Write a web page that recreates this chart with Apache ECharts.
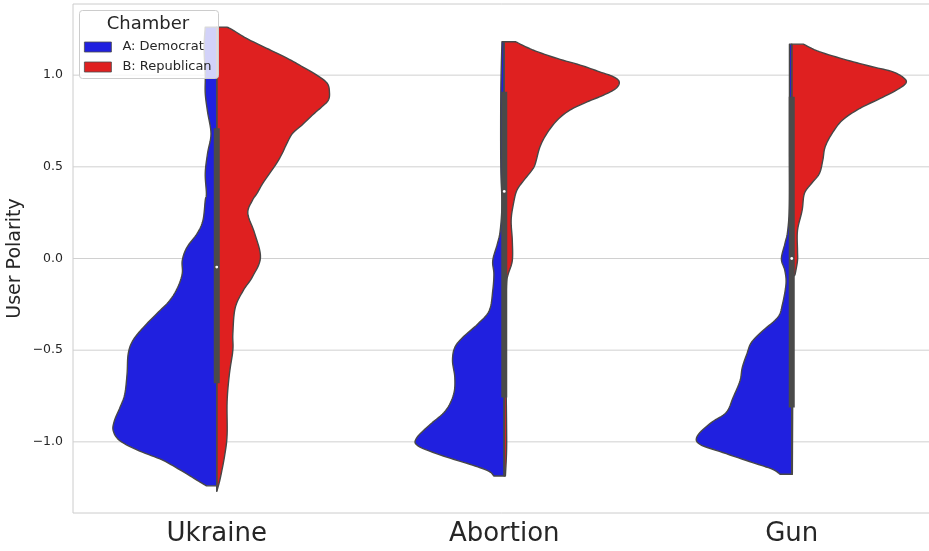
<!DOCTYPE html>
<html>
<head>
<meta charset="utf-8">
<script src="https://cdn.jsdelivr.net/npm/echarts@6/dist/echarts.min.js"></script>
<style>
  html, body { margin: 0; padding: 0; background: #ffffff; }
  #chart { width: 929px; height: 551px; }
</style>
</head>
<body>
<div id="chart"></div>
<script>
// Topics on the x axis, chambers split left/right inside each violin
const categories = ['Ukraine', 'Abortion', 'Gun'];
const groups = ['A: Democrat', 'B: Republican'];
const yTickValues = [-1.0, -0.5, 0.0, 0.5, 1.0];

// Kernel density profiles: [polarity, relative density] (1 = widest half)
const ukraineDem = [
  [1.262, 0.10], [1.15, 0.11], [1.0, 0.10], [0.9, 0.10], [0.8, 0.08], [0.68, 0.05],
  [0.574, 0.08], [0.464, 0.10], [0.355, 0.09], [0.317, 0.10], [0.208, 0.12], [0.137, 0.17],
  [0.06, 0.26], [-0.011, 0.30], [-0.082, 0.30], [-0.158, 0.34], [-0.23, 0.41], [-0.30, 0.52],
  [-0.377, 0.64], [-0.448, 0.73], [-0.52, 0.77], [-0.63, 0.78], [-0.74, 0.80], [-0.81, 0.84],
  [-0.885, 0.89], [-0.94, 0.90], [-0.995, 0.84], [-1.05, 0.67], [-1.10, 0.47], [-1.16, 0.30],
  [-1.21, 0.17], [-1.24, 0.09]
];
const ukraineRep = [
  [1.262, 0.09], [1.246, 0.14], [1.20, 0.26], [1.148, 0.43], [1.093, 0.61], [1.044, 0.75],
  [1.0, 0.87], [0.956, 0.96], [0.907, 0.98], [0.863, 0.97], [0.825, 0.91], [0.781, 0.83],
  [0.727, 0.74], [0.683, 0.66], [0.628, 0.61], [0.574, 0.57], [0.519, 0.52], [0.464, 0.46],
  [0.41, 0.40], [0.355, 0.35], [0.317, 0.31], [0.246, 0.27], [0.137, 0.33], [0.005, 0.38],
  [-0.10, 0.31], [-0.175, 0.23], [-0.27, 0.16], [-0.41, 0.14], [-0.5, 0.14], [-0.63, 0.11],
  [-0.78, 0.09], [-0.96, 0.09], [-1.07, 0.07], [-1.20, 0.03], [-1.27, 0.0]
];
const abortionDem = [
  [1.182, 0.02], [0.9, 0.03], [0.5, 0.03], [0.3, 0.02], [0.153, 0.035], [0.08, 0.06],
  [-0.011, 0.10], [-0.084, 0.09], [-0.175, 0.10], [-0.284, 0.13], [-0.357, 0.23], [-0.43, 0.36],
  [-0.485, 0.43], [-0.557, 0.45], [-0.649, 0.43], [-0.74, 0.44], [-0.83, 0.51], [-0.903, 0.64],
  [-0.977, 0.76], [-1.022, 0.75], [-1.077, 0.53], [-1.122, 0.30], [-1.158, 0.14], [-1.186, 0.09]
];
const abortionRep = [
  [1.182, 0.10], [1.137, 0.25], [1.091, 0.46], [1.055, 0.66], [1.018, 0.83], [0.991, 0.95],
  [0.963, 1.0], [0.927, 0.97], [0.89, 0.86], [0.854, 0.72], [0.809, 0.57], [0.754, 0.46],
  [0.681, 0.37], [0.608, 0.31], [0.517, 0.27], [0.481, 0.24], [0.426, 0.17], [0.372, 0.11],
  [0.299, 0.08], [0.208, 0.06], [0.098, 0.07], [-0.011, 0.07], [-0.084, 0.035], [-0.137, 0.02],
  [-0.3, 0.015], [-0.6, 0.015], [-0.9, 0.02], [-1.05, 0.02], [-1.186, 0.01]
];
const gunDem = [
  [1.169, 0.02], [1.0, 0.02], [0.6, 0.02], [0.3, 0.02], [0.153, 0.035], [0.08, 0.06],
  [-0.002, 0.09], [-0.066, 0.06], [-0.138, 0.05], [-0.247, 0.08], [-0.32, 0.12], [-0.393, 0.25],
  [-0.457, 0.35], [-0.52, 0.39], [-0.594, 0.43], [-0.667, 0.45], [-0.758, 0.51], [-0.84, 0.57],
  [-0.895, 0.70], [-0.967, 0.82], [-1.013, 0.80], [-1.058, 0.60], [-1.113, 0.34], [-1.149, 0.17],
  [-1.177, 0.10]
];
const gunRep = [
  [1.169, 0.10], [1.128, 0.24], [1.082, 0.48], [1.046, 0.70], [1.018, 0.88], [0.982, 0.98],
  [0.954, 0.99], [0.918, 0.91], [0.873, 0.77], [0.818, 0.59], [0.754, 0.44], [0.681, 0.35],
  [0.608, 0.29], [0.536, 0.27], [0.463, 0.24], [0.408, 0.17], [0.354, 0.11], [0.262, 0.09],
  [0.153, 0.05], [0.044, 0.05], [-0.011, 0.05], [-0.084, 0.03], [-0.138, 0.01], [-0.5, 0.01],
  [-1.177, 0.005]
];

// Inner box statistics for the pooled data of each topic
const boxLow    = [-1.27, -1.186, -1.177];
const boxQ1     = [-0.68, -0.758, -0.812];
const boxMedian = [-0.047, 0.366, 0.0];
const boxQ3     = [0.71, 0.909, 0.882];
const boxHigh   = [1.262, 1.182, 1.169];

const demProfiles = [ukraineDem, abortionDem, gunDem];
const repProfiles = [ukraineRep, abortionRep, gunRep];

const HALF_WIDTH = 0.4;
const EDGE = '#474747';
const FONT = 'DejaVu Sans';
const TEXT = '#262626';

// Catmull-Rom pass so the density outline is drawn as a smooth curve
function smoothPath(pts, steps) {
  const out = [];
  const n = pts.length;
  for (let i = 0; i < n - 1; i++) {
    const p0 = pts[Math.max(i - 1, 0)], p1 = pts[i], p2 = pts[i + 1], p3 = pts[Math.min(i + 2, n - 1)];
    for (let s = 0; s < steps; s++) {
      const t = s / steps, t2 = t * t, t3 = t2 * t;
      const f = (a, b, c, d) => 0.5 * ((2 * b) + (-a + c) * t + (2 * a - 5 * b + 4 * c - d) * t2 + (-a + 3 * b - 3 * c + d) * t3);
      out.push([f(p0[0], p1[0], p2[0], p3[0]), f(p0[1], p1[1], p2[1], p3[1])]);
    }
  }
  out.push(pts[n - 1]);
  return out;
}

function halfViolin(profiles, side) {
  return function (params, api) {
    const idx = api.value(0);
    const prof = profiles[idx];
    const outer = prof.map(([y, d]) => api.coord([idx + side * d * HALF_WIDTH, y]));
    const top = api.coord([idx, prof[0][0]]);
    const bot = api.coord([idx, prof[prof.length - 1][0]]);
    const points = [top].concat(smoothPath(outer, 8), [bot]);
    return {
      type: 'polygon',
      shape: { points: points },
      style: { fill: api.visual('color'), stroke: EDGE, lineWidth: 1.4, lineJoin: 'round' }
    };
  };
}

function innerBox(params, api) {
  const i = api.value(0);
  const lo = api.coord([i, boxLow[i]]);
  const hi = api.coord([i, boxHigh[i]]);
  const q1 = api.coord([i, boxQ1[i]]);
  const q3 = api.coord([i, boxQ3[i]]);
  const md = api.coord([i, boxMedian[i]]);
  return {
    type: 'group',
    children: [
      { type: 'line', shape: { x1: lo[0], y1: lo[1], x2: hi[0], y2: hi[1] }, style: { stroke: '#4a4a4a', lineWidth: 1.5 } },
      { type: 'rect', shape: { x: q3[0] - 3, y: q3[1], width: 6, height: q1[1] - q3[1] }, style: { fill: '#4a4a4a' } },
      { type: 'circle', shape: { cx: md[0], cy: md[1], r: 1.4 }, style: { fill: '#ffffff' } }
    ]
  };
}

function gridLine(params, api) {
  const v = api.value(1);
  const p = api.coord([0, v]);
  const cs = params.coordSys;
  return {
    type: 'line',
    shape: { x1: cs.x, y1: p[1], x2: cs.x + cs.width, y2: p[1] },
    style: { stroke: '#d0d0d0', lineWidth: 1 }
  };
}

const catData = categories.map((c, i) => [i, 0]);

const chart = echarts.init(document.getElementById('chart'), null, { renderer: 'canvas' });
chart.setOption({
  animation: false,
  backgroundColor: '#ffffff',
  grid: {
    left: 73, top: 4, width: 862.5, height: 509,
    outerBoundsMode: 'none', containLabel: false,
    show: true, borderColor: '#cccccc', borderWidth: 1, backgroundColor: 'transparent'
  },
  xAxis: {
    type: 'value', min: -0.5, max: 2.5,
    axisLine: { show: false }, axisTick: { show: false }, splitLine: { show: false },
    axisLabel: {
      customValues: categories.map((c, i) => i),
      formatter: v => categories[Math.round(v)],
      fontFamily: FONT, fontSize: 26, color: TEXT, margin: 8
    }
  },
  yAxis: {
    type: 'value', min: -1.388, max: 1.388,
    name: 'User Polarity', nameLocation: 'middle', nameRotate: 90, nameGap: 48,
    nameMoveOverlap: false,
    nameTextStyle: { fontFamily: FONT, fontSize: 19, color: TEXT },
    axisLine: { show: false }, axisTick: { show: false }, splitLine: { show: false },
    axisLabel: {
      customValues: yTickValues,
      formatter: v => v.toFixed(1).replace('-', '\u2212'),
      fontFamily: FONT, fontSize: 12.5, color: TEXT, margin: 10
    }
  },
  legend: {
    data: groups,
    orient: 'vertical', left: 84, top: 40, z: 12, padding: 0,
    icon: 'rect', itemWidth: 27, itemHeight: 10, itemGap: 6,
    itemStyle: { borderColor: '#4d4d4d', borderWidth: 0.8 },
    textStyle: { fontFamily: FONT, fontSize: 13, color: TEXT, lineHeight: 14, padding: [0, 0, 0, 6] },
    selectedMode: false
  },
  graphic: [
    {
      type: 'rect', z: 10,
      shape: { x: 79.5, y: 10.5, width: 139, height: 68, r: 3 },
      style: { fill: 'rgba(255,255,255,0.8)', stroke: '#cccccc', lineWidth: 1 }
    },
    {
      type: 'text', z: 11, x: 148, y: 24,
      style: { text: 'Chamber', fontFamily: FONT, fontSize: 18, fill: TEXT, align: 'center', verticalAlign: 'middle' }
    }
  ],
  series: [
    {
      type: 'custom', name: 'grid', z: 1, silent: true,
      data: yTickValues.map(v => [0, v]), encode: { x: 0, y: 1 },
      renderItem: gridLine
    },
    {
      type: 'custom', name: groups[0], z: 2,
      itemStyle: { color: '#2020df', borderColor: '#4d4d4d' },
      data: catData, encode: { x: 0, y: 1 },
      renderItem: halfViolin(demProfiles, -1)
    },
    {
      type: 'custom', name: groups[1], z: 3,
      itemStyle: { color: '#df2020', borderColor: '#4d4d4d' },
      data: catData, encode: { x: 0, y: 1 },
      renderItem: halfViolin(repProfiles, 1)
    },
    {
      type: 'custom', name: 'box', z: 4, silent: true,
      data: catData, encode: { x: 0, y: 1 },
      renderItem: innerBox
    }
  ]
});
</script>
</body>
</html>
